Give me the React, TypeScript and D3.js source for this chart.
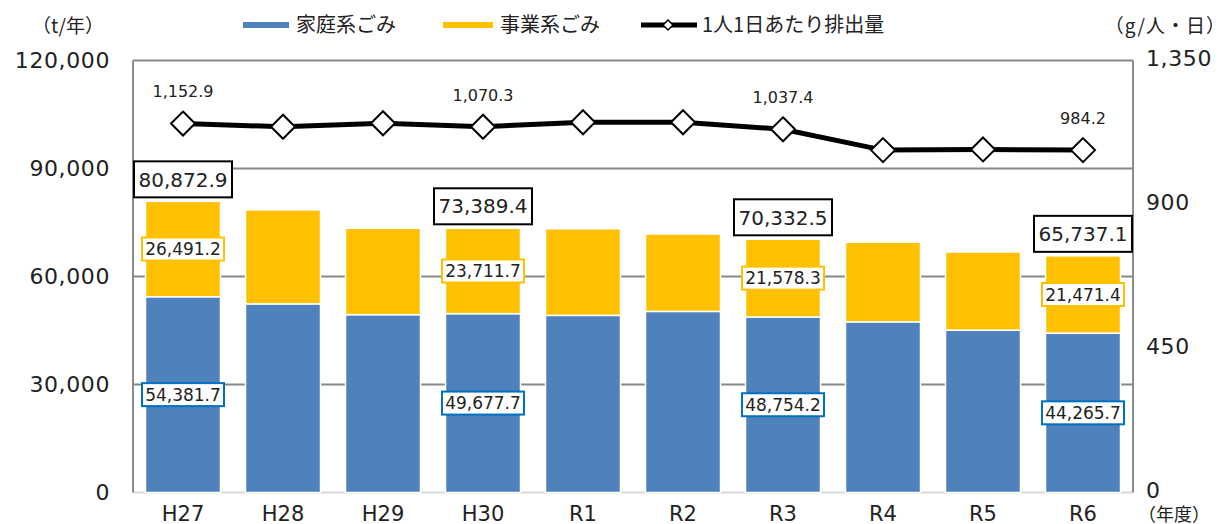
import React from "react";
import * as d3 from "d3";

// 年度
const years = ["H27", "H28", "H29", "H30", "R1", "R2", "R3", "R4", "R5", "R6"];
// 家庭系ごみ (t/年)
const household = [54381.7, 52400, 49400, 49677.7, 49200, 50300, 48754.2, 47400, 45100, 44265.7];
// 事業系ごみ (t/年)
const business = [26491.2, 26100, 24000, 23711.7, 24050, 21500, 21578.3, 22100, 21700, 21471.4];
// 1人1日あたり排出量 (g/人・日)
const perCapita = [1152.9, 1143, 1154, 1143, 1157, 1157, 1135, 1070, 1072, 1070];
// labelled points on the line
const perCapitaLabels = ["1,152.9", "", "", "1,070.3", "", "", "1,037.4", "", "", "984.2"];
const labelled = ["H27", "H30", "R3", "R6"];

const leftTicks = [0, 30000, 60000, 90000, 120000];
const rightTicks = [0, 450, 900, 1350];

const BLUE = "#4F81BD";
const YELLOW = "#FFC000";
const FONT = "'DejaVu Sans', 'Noto Sans CJK JP', sans-serif";
const JP = "'Noto Sans CJK JP', sans-serif";

export default function App() {
  const width = 1229;
  const height = 524;
  const left = 133;
  const right = 1133;
  const top = 60.5;
  const bottom = 492.5;

  const x = d3.scaleBand().domain(years).range([left, right]).paddingInner(0.25).paddingOuter(0.125);
  const yL = d3.scaleLinear().domain([0, 120000]).range([bottom, top]);
  const yR = d3.scaleLinear().domain([0, 1350]).range([bottom, top]);

  const rows = years.map((y, i) => ({ year: y, household: household[i], business: business[i] }));
  const series = d3.stack<any>().keys(["household", "business"])(rows);
  const fmt = d3.format(",.1f");

  const line = d3
    .line<number>()
    .x((_, i) => x(years[i])! + x.bandwidth() / 2)
    .y((d) => yR(d));

  const cx = (yr: string) => x(yr)! + x.bandwidth() / 2;
  const diamond = (px: number, py: number, r: number) =>
    `M${px},${py - r}L${px + r},${py}L${px},${py + r}L${px - r},${py}Z`;

  return (
    <svg width={width} height={height} style={{ position: "absolute", left: 0, top: 0, background: "#fff" }} fontFamily={FONT}>
      {/* grid */}
      {leftTicks.slice(1).map((t) => (
        <line key={t} x1={left} x2={right} y1={yL(t)} y2={yL(t)} stroke="#888" strokeWidth={2} />
      ))}
      <line x1={left} x2={right} y1={bottom} y2={bottom} stroke="#d9d9d9" strokeWidth={2} />
      <line x1={left} x2={left} y1={top} y2={bottom} stroke="#8c8c8c" strokeWidth={2} />
      <line x1={right} x2={right} y1={top} y2={bottom} stroke="#8c8c8c" strokeWidth={2} />

      {/* bars */}
      {series.map((s, si) => (
        <g key={s.key} fill={si === 0 ? BLUE : YELLOW}>
          {s.map((d, i) => (
            <rect
              key={i}
              x={x(years[i])}
              width={x.bandwidth()}
              y={yL(d[1])}
              height={yL(d[0]) - yL(d[1])}
              stroke="#fff"
              strokeWidth={1.5}
            />
          ))}
        </g>
      ))}

      {/* left axis */}
      {leftTicks.map((t) => (
        <text key={t} x={110} y={yL(t)} dy="0.36em" textAnchor="end" fontSize={22} letterSpacing={0.6} fill="#222">
          {d3.format(",")(t)}
        </text>
      ))}
      {/* right axis */}
      {rightTicks.map((t) => (
        <text key={t} x={1146} y={yR(t) - 2} dy="0.36em" textAnchor="start" fontSize={22} letterSpacing={0.6} fill="#222">
          {d3.format(",")(t)}
        </text>
      ))}
      {/* x axis */}
      {years.map((yr) => (
        <text key={yr} x={cx(yr)} y={521} textAnchor="middle" fontSize={21} fill="#222">
          {yr}
        </text>
      ))}
      <text x={1174} y={521} textAnchor="middle" fontSize={18} fontFamily={JP} fill="#222">
        （年度）
      </text>

      {/* units */}
      <text x={68} y={26} dy="0.35em" textAnchor="middle" fontSize={19} fontFamily={JP} fill="#222">
        （t/年）
      </text>
      <text x={1226} y={26} dy="0.35em" textAnchor="end" fontSize={19} fontFamily={JP} letterSpacing={1} fill="#222">
        （g/人・日）
      </text>

      {/* legend */}
      <g fontFamily={JP} fontSize={20} fill="#222">
        <rect x={243} y={22} width={46} height={6} fill={BLUE} />
        <text x={296} y={25} dy="0.36em">家庭系ごみ</text>
        <rect x={443} y={22} width={50} height={6} fill={YELLOW} />
        <text x={500} y={25} dy="0.36em">事業系ごみ</text>
        <line x1={641} x2={697} y1={25} y2={25} stroke="#000" strokeWidth={5} />
        <path d={diamond(668, 25, 5)} fill="#fff" stroke="#000" strokeWidth={1.5} />
        <text x={702} y={25} dy="0.36em">1人1日あたり排出量</text>
      </g>

      {/* per-capita line */}
      <path d={line(perCapita) ?? ""} fill="none" stroke="#000" strokeWidth={5} />
      {perCapita.map((v, i) => (
        <path key={i} d={diamond(cx(years[i]), yR(v), 12)} fill="#fff" stroke="#000" strokeWidth={2} />
      ))}
      {perCapita.map((v, i) =>
        perCapitaLabels[i] ? (
          <text key={i} x={cx(years[i])} y={yR(v) - 32} dy="0.36em" textAnchor="middle" fontSize={16} fill="#222">
            {perCapitaLabels[i]}
          </text>
        ) : null
      )}

      {/* data labels */}
      {labelled.map((yr) => {
        const i = years.indexOf(yr);
        const total = household[i] + business[i];
        const c = cx(yr);
        const yt = yL(total);
        const ym = yL(household[i] + business[i] / 2);
        const yh = yL(household[i] / 2);
        return (
          <g key={yr}>
            <rect x={c - 49} y={yt - 40} width={98} height={36} fill="#fff" stroke="#000" strokeWidth={2} />
            <text x={c} y={yt - 22} dy="0.36em" textAnchor="middle" fontSize={20} fill="#222">
              {fmt(total)}
            </text>
            <rect x={c - 41} y={ym - 11.5} width={82} height={23} fill="#fff" stroke={YELLOW} strokeWidth={2} />
            <text x={c} y={ym} dy="0.36em" textAnchor="middle" fontSize={17} fill="#222">
              {fmt(business[i])}
            </text>
            <rect x={c - 41} y={yh - 11.5} width={82} height={23} fill="#fff" stroke="#0070C0" strokeWidth={2} />
            <text x={c} y={yh} dy="0.36em" textAnchor="middle" fontSize={17} fill="#222">
              {fmt(household[i])}
            </text>
          </g>
        );
      })}
    </svg>
  );
}
